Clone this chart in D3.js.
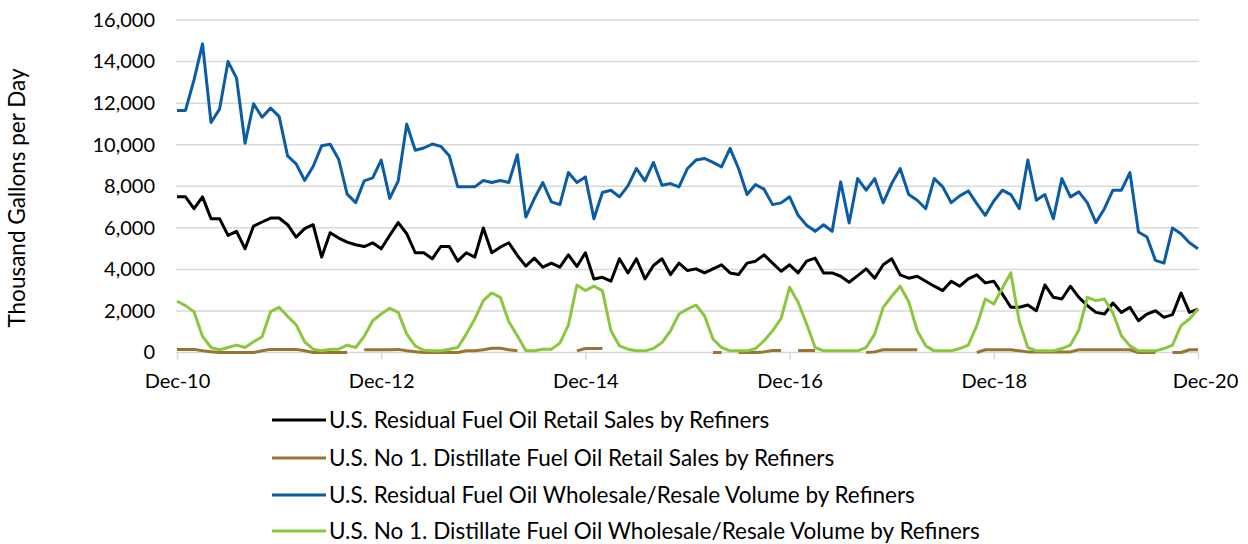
<!DOCTYPE html>
<html>
<head>
    <meta charset="utf-8">
    <title>Fuel Oil Sales by Refiners</title>
    <script src="https://cdnjs.cloudflare.com/ajax/libs/d3/7.8.5/d3.min.js"></script>
    <style>
        body {
            margin: 0;
            background: #ffffff;
            font-family: Lato, "Open Sans", sans-serif;
        }
        svg text {
            fill: #000;
        }
    </style>
</head>
<body>
    <svg id="chart" width="1248" height="544"></svg>

    <script>
        // Datos (miles de galones por día), mensuales Dec-10 .. Dec-20
        const residualRetail = [
            7490, 7490, 6920, 7490, 6440, 6440, 5635, 5830, 4990, 6085,
            6280, 6470, 6470, 6150, 5555, 5960, 6150, 4590, 5765, 5505,
            5310, 5185, 5100, 5280, 4990, 5635, 6250, 5715, 4800, 4800,
            4510, 5100, 5100, 4395, 4800, 4590, 5990, 4800, 5070, 5280,
            4670, 4155, 4540, 4105, 4300, 4105, 4700, 4140, 4800, 3540,
            3620, 3430, 4510, 3830, 4510, 3540, 4185, 4510, 3750, 4300,
            3945, 4025, 3830, 4025, 4220, 3830, 3750, 4300, 4395, 4700,
            4300, 3910, 4220, 3830, 4395, 4540, 3830, 3830, 3670, 3380,
            3700, 4025, 3575, 4220, 4510, 3735, 3575, 3670, 3430, 3190,
            2980, 3430, 3190, 3540, 3735, 3350, 3430, 2820, 2175, 2175,
            2285, 2010, 3250, 2655, 2575, 3190, 2655, 2255, 1930, 1850,
            2380, 1930, 2175, 1530, 1850, 2010, 1690, 1820, 2865, 1930,
            2090
        ];

        const distillateRetail = [
            150, 150, 150, 80, 40, 0, 0, 0, 0, 0,
            80, 150, 150, 150, 150, 80, 0, 0, 0, 0,
            0, null, 130, 130, 130, 130, 150, 80, 40, 0,
            0, 0, 0, 0, 80, 80, 130, 200, 200, 130,
            80, null, null, null, null, null, null, 80, 190, 190,
            190, null, null, null, null, null, null, null, null, null,
            null, null, null, 0, 0, null, 0, 0, 0, 30,
            100, 100, null, 100, 100, 100, null, null, null, null,
            null, 0, 30, 130, 130, 130, 130, 130, null, null,
            null, null, null, null, 0, 130, 130, 130, 130, 80,
            30, 30, 30, 30, 30, 30, 130, 130, 130, 130,
            130, 130, 130, 0, 0, 0, null, 0, 0, 130,
            130
        ];

        const residualWholesale = [
            11650, 11650, 13120, 14850, 11070, 11710, 14000, 13200, 10070, 11970,
            11320, 11760, 11360, 9460, 9080, 8280, 8950, 9945, 10025, 9300,
            7620, 7210, 8260, 8400, 9260, 7420, 8260, 10990, 9730, 9840,
            10030, 9920, 9470, 7970, 7970, 7970, 8275, 8180, 8275, 8180,
            9520, 6520, 7410, 8180, 7245, 7115, 8660, 8180, 8450, 6440,
            7700, 7810, 7490, 8020, 8855, 8260, 9145, 8050, 8130, 7970,
            8855, 9260, 9340, 9145, 8935, 9820, 8855, 7600, 8080, 7860,
            7115, 7200, 7490, 6600, 6120, 5830, 6150, 5830, 8210, 6230,
            8370, 7810, 8370, 7200, 8130, 8855, 7600, 7325, 6920, 8370,
            7970, 7210, 7535, 7775, 7165, 6600, 7290, 7810, 7600, 6920,
            9260, 7325, 7600, 6440, 8370, 7490, 7730, 7200, 6250, 6920,
            7810, 7810, 8660, 5800, 5555, 4430, 4300, 5990, 5715, 5280,
            4990
        ];

        const distillateWholesale = [
            2465, 2255, 1965, 775, 240, 130, 240, 355, 240, 515,
            755, 1965, 2175, 1740, 1335, 515, 160, 80, 160, 160,
            355, 240, 775, 1530, 1850, 2125, 1930, 885, 320, 110,
            80, 80, 160, 240, 885, 1610, 2495, 2865, 2655, 1480,
            805, 80, 80, 160, 160, 450, 1320, 3250, 2980, 3190,
            2980, 1045, 320, 160, 80, 80, 190, 480, 1045, 1850,
            2090, 2285, 1770, 645, 240, 80, 80, 80, 190, 565,
            1045, 1640, 3140, 2415, 1370, 240, 80, 80, 80, 80,
            80, 240, 885, 2175, 2705, 3190, 2445, 1045, 320, 80,
            80, 80, 190, 355, 1290, 2575, 2335, 3090, 3830, 1480,
            240, 80, 80, 80, 190, 355, 1095, 2655, 2495, 2575,
            1900, 805, 320, 80, 80, 80, 190, 355, 1290, 1610,
            2090
        ];

        const seriesNames = [
            "U.S. Residual Fuel Oil Retail Sales by Refiners",
            "U.S. No 1. Distillate Fuel Oil Retail Sales by Refiners",
            "U.S. Residual Fuel Oil Wholesale/Resale Volume by Refiners",
            "U.S. No 1. Distillate Fuel Oil Wholesale/Resale Volume by Refiners"
        ];
        const seriesColors = ["#000000", "#9a7432", "#0b5ca5", "#8cc63f"];
        const yTicks = [0, 2000, 4000, 6000, 8000, 10000, 12000, 14000, 16000];

        // Meses (categorías)
        const fmt = d3.timeFormat("%b-%y");
        const months = d3.timeMonth.range(new Date(2010, 11, 1), new Date(2021, 0, 1)).map(fmt);
        const xTickLabels = months.filter((d, i) => i % 24 === 0);

        const svg = d3.select("#chart");
        const plot = {left: 177, right: 1198, top: 20, bottom: 352.5};

        const x = d3.scalePoint()
            .domain(months)
            .range([plot.left, plot.right]);

        const y = d3.scaleLinear()
            .domain([0, 16000])
            .range([plot.bottom, plot.top]);

        // Líneas de cuadrícula
        svg.append("g")
            .selectAll("line")
            .data(yTicks.filter(d => d > 0))
            .join("line")
            .attr("x1", plot.left - 1)
            .attr("x2", plot.right + 1)
            .attr("y1", d => y(d))
            .attr("y2", d => y(d))
            .attr("stroke", "#d9d9d9")
            .attr("stroke-width", 1.5);

        // Eje Y
        const yAxis = svg.append("g")
            .attr("transform", `translate(${plot.left},0)`)
            .call(d3.axisLeft(y).tickValues(yTicks).tickFormat(d3.format(",")).tickSize(0).tickPadding(22));
        yAxis.select(".domain").remove();
        yAxis.selectAll("text")
            .attr("font-family", "Lato, sans-serif")
            .attr("font-size", 20);

        // Eje X
        const xAxis = svg.append("g")
            .attr("transform", `translate(0,${plot.bottom})`)
            .call(d3.axisBottom(x).tickValues(xTickLabels).tickSizeInner(7).tickSizeOuter(0).tickPadding(14));
        xAxis.select(".domain")
            .attr("d", `M${plot.left - 1},0H${plot.right + 1}`)
            .attr("stroke", "#d9d9d9")
            .attr("stroke-width", 1.5);
        xAxis.selectAll(".tick line")
            .attr("stroke", "#d9d9d9")
            .attr("stroke-width", 1.5);
        xAxis.selectAll("text")
            .attr("font-family", "Lato, sans-serif")
            .attr("font-size", 20)
            .attr("dx", d => d === xTickLabels[xTickLabels.length - 1] ? 7 : 0);

        // Título del eje Y
        svg.append("text")
            .attr("transform", "translate(25,198) rotate(-90)")
            .attr("text-anchor", "middle")
            .attr("font-size", 22.5)
            .text("Thousand Gallons per Day");

        // Series
        const allSeries = [residualRetail, distillateRetail, residualWholesale, distillateWholesale];
        const line = d3.line()
            .defined(d => d != null)
            .x((d, i) => x(months[i]))
            .y(d => y(d));

        svg.append("g")
            .selectAll("path")
            .data(allSeries)
            .join("path")
            .attr("fill", "none")
            .attr("stroke", (d, i) => seriesColors[i])
            .attr("stroke-width", 3)
            .attr("stroke-linejoin", "round")
            .attr("d", line);

        // Leyenda
        const legend = svg.append("g");
        const legendRows = [420, 458, 495, 531];
        seriesNames.forEach((name, i) => {
            const g = legend.append("g").attr("transform", `translate(272,${legendRows[i]})`);
            g.append("line")
                .attr("x1", 0).attr("x2", 54)
                .attr("stroke", seriesColors[i])
                .attr("stroke-width", 3);
            g.append("text")
                .attr("x", 57)
                .attr("dy", "0.35em")
                .attr("font-size", 22.5)
                .text(name);
        });
    </script>
</body>
</html>
